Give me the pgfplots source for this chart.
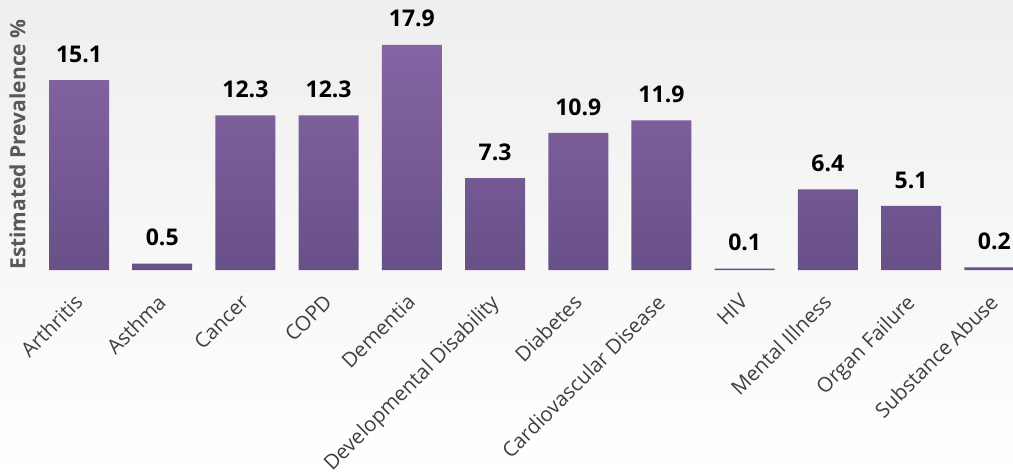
\documentclass[border=0pt]{standalone}
\usepackage{pgfplots}
\pgfplotsset{compat=1.18}
\usepackage{fontspec}
\setmainfont{Open Sans}
\definecolor{barTop}{RGB}{133,101,164}
\definecolor{barBot}{RGB}{104,80,136}
\definecolor{bgTop}{RGB}{238,238,238}
\definecolor{bgMid}{RGB}{222,222,222}
\definecolor{tickc}{RGB}{64,64,64}
\definecolor{ylab}{RGB}{89,89,89}
\begin{document}
\begin{tikzpicture}
\shade[top color=bgTop, middle color=bgMid, bottom color=white] (0,0) rectangle (1013pt,474pt);
\path[use as bounding box] (0,0) rectangle (1013pt,474pt);
\begin{axis}[
  at={(33pt,204pt)}, anchor=south west,
  scale only axis,
  width=980pt, height=239pt,
  xmin=-0.553, xmax=11.225,
  ymin=0, ymax=19,
  axis line style={draw=none},
  tick style={draw=none},
  ytick=\empty,
  xtick={0,...,11},
  xticklabels={Arthritis,Asthma,Cancer,COPD,Dementia,Developmental Disability,Diabetes,Cardiovascular Disease,HIV,Mental Illness,Organ Failure,Substance Abuse},
  xticklabel style={xshift=-6pt, yshift=-18pt, rotate=45, anchor=north east, font=\fontsize{20.5}{22}\selectfont, text=tickc},
  ylabel={\textbf{Estimated Prevalence \%}},
  ylabel style={at={(axis description cs:-0.004,0.525)}, anchor=south, font=\fontsize{21}{24}\selectfont, text=ylab},
  nodes near coords,
  nodes near coords style={font=\bfseries\fontsize{23}{25}\selectfont, text=black, yshift=14pt},
  point meta=explicit symbolic,
]
\addplot[ybar, bar width=60pt, draw=none, top color=barTop, bottom color=barBot]
 table[meta=lab] {
x y lab
0 15.1 15.1
1 0.5 0.5
2 12.3 12.3
3 12.3 12.3
4 17.9 17.9
5 7.3 7.3
6 10.9 10.9
7 11.9 11.9
8 0.1 0.1
9 6.4 6.4
10 5.1 5.1
11 0.2 0.2
};
\end{axis}
\end{tikzpicture}
\end{document}
